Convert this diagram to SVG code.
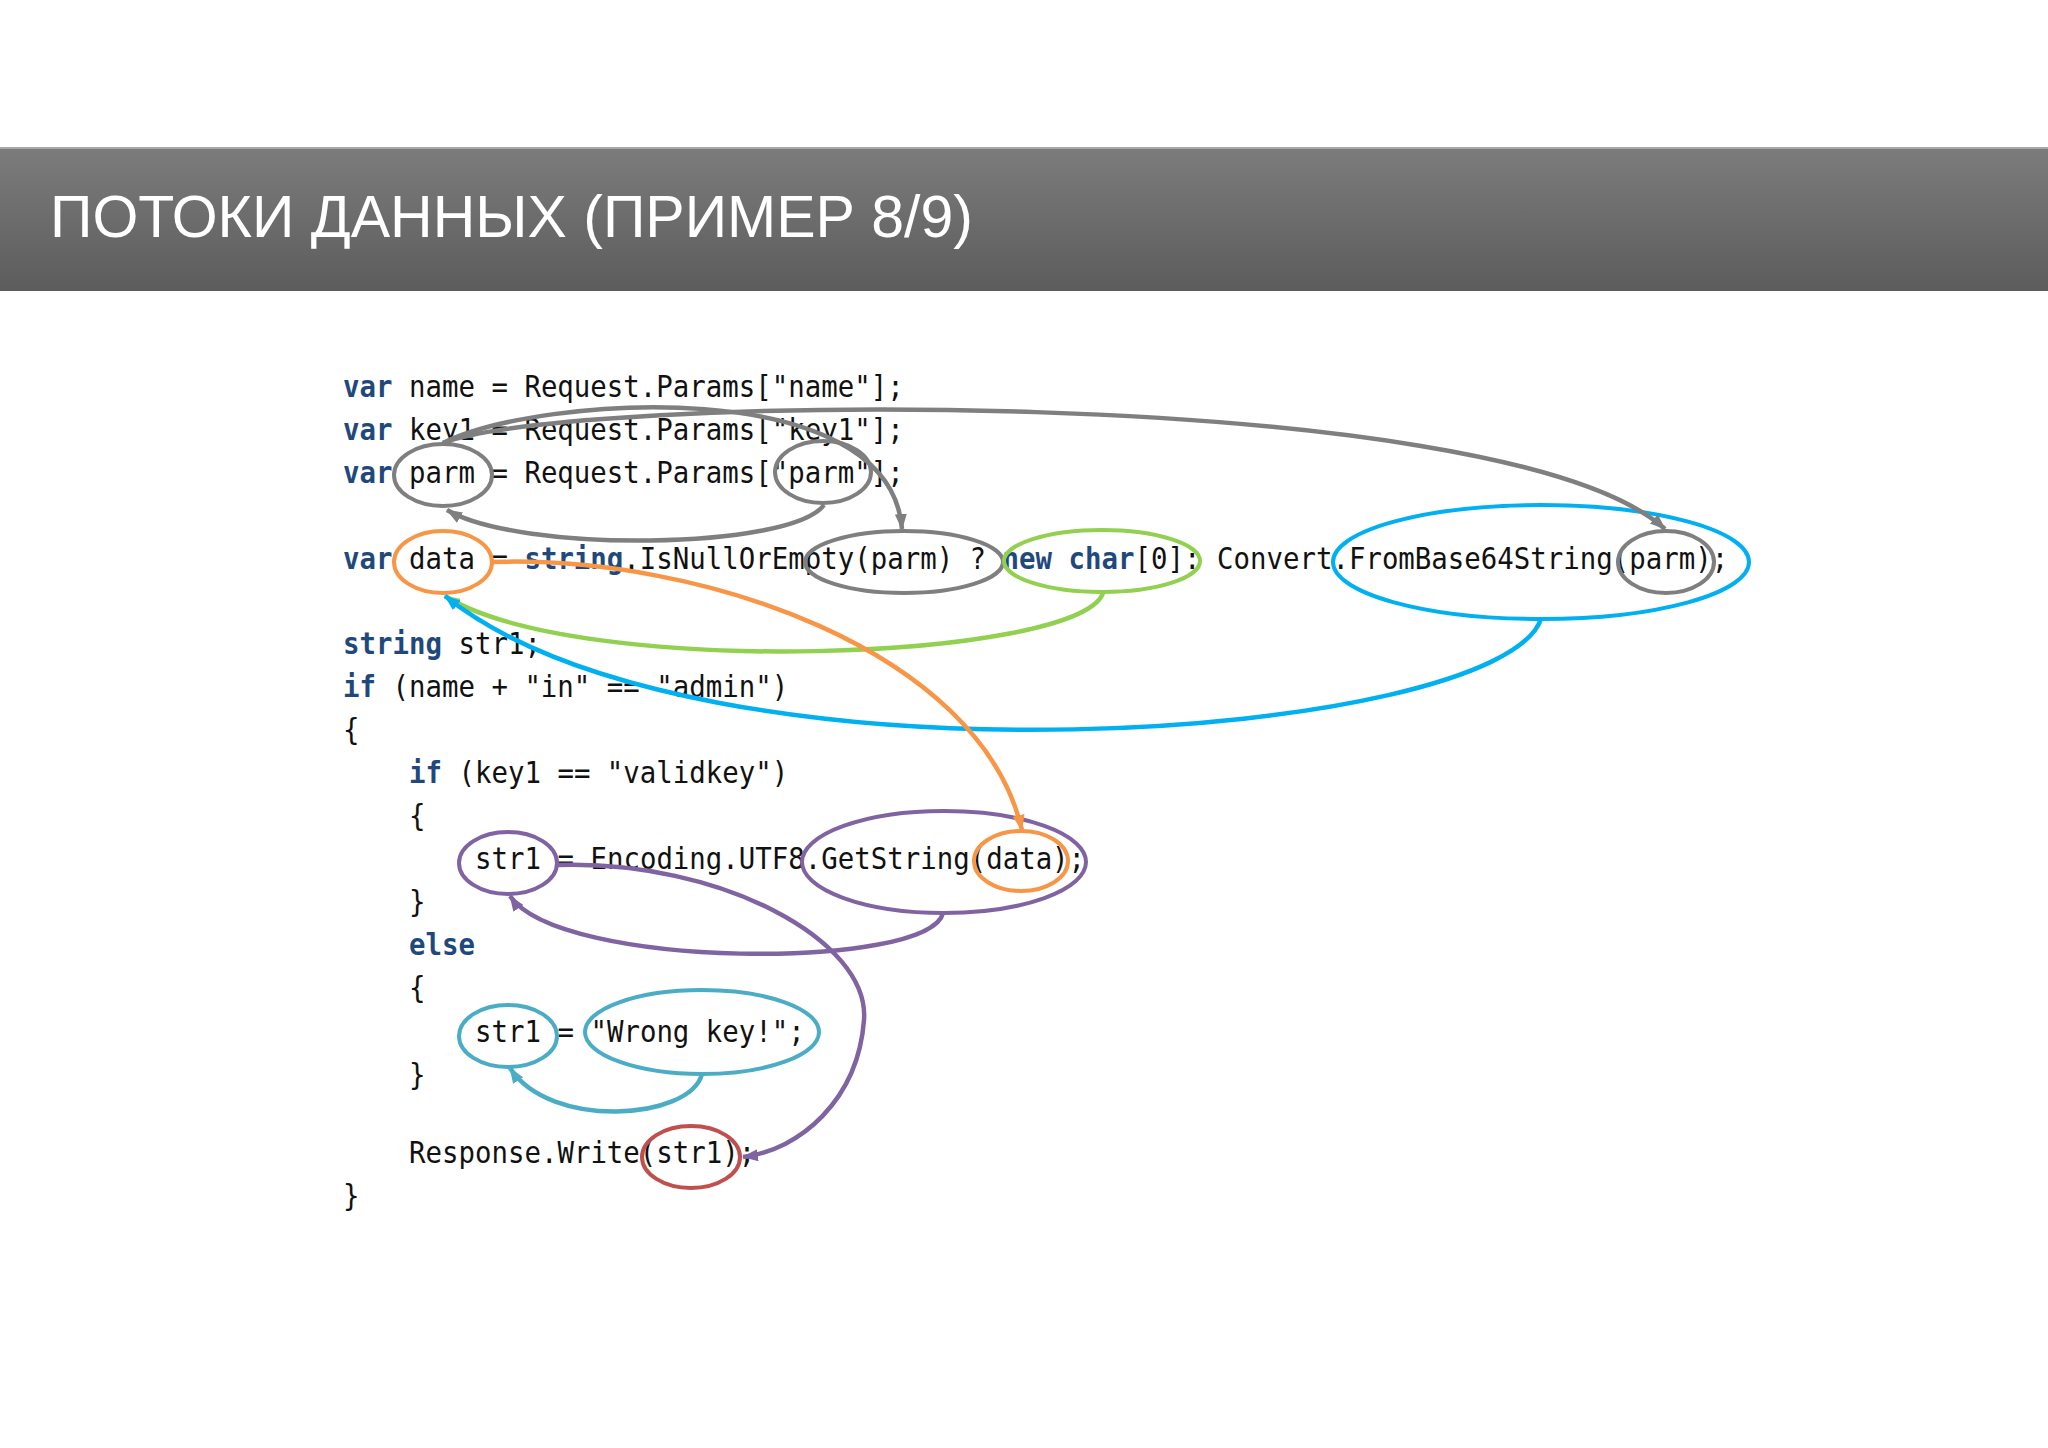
<svg xmlns="http://www.w3.org/2000/svg" width="2048" height="1448" viewBox="0 0 2048 1448">
<style>
.code{font-family:"DejaVu Sans Mono","Liberation Mono",monospace;font-size:27.4px;fill:#111111}
.kw{fill:#1F497D;font-weight:bold}
.title{font-family:"Liberation Sans",Arial,sans-serif;font-size:59px;fill:#ffffff}
.el{fill:none;stroke-width:4}
.ln{fill:none;stroke-width:4.5}
.gray{stroke:#7f7f7f}
.orange{stroke:#f79646}
.green{stroke:#92d050}
.blue{stroke:#00b0f0}
.purple{stroke:#8064a2}
.teal{stroke:#4bacc6}
.red{stroke:#c0504d}
</style>
<defs>
<linearGradient id="hdr" x1="0" y1="0" x2="0" y2="1">
<stop offset="0" stop-color="#7c7c7c"/>
<stop offset="1" stop-color="#5c5c5c"/>
</linearGradient>
<marker id="aGray" viewBox="0 0 16 12" refX="15" refY="6" markerWidth="16" markerHeight="12" markerUnits="userSpaceOnUse" orient="auto"><path d="M0,0 L16,6 L0,12 z" fill="#7f7f7f"/></marker>
<marker id="aGreen" viewBox="0 0 16 12" refX="15" refY="6" markerWidth="16" markerHeight="12" markerUnits="userSpaceOnUse" orient="auto"><path d="M0,0 L16,6 L0,12 z" fill="#92d050"/></marker>
<marker id="aBlue" viewBox="0 0 16 12" refX="15" refY="6" markerWidth="16" markerHeight="12" markerUnits="userSpaceOnUse" orient="auto"><path d="M0,0 L16,6 L0,12 z" fill="#00b0f0"/></marker>
<marker id="aOrange" viewBox="0 0 16 12" refX="15" refY="6" markerWidth="16" markerHeight="12" markerUnits="userSpaceOnUse" orient="auto"><path d="M0,0 L16,6 L0,12 z" fill="#f79646"/></marker>
<marker id="aPurple" viewBox="0 0 16 12" refX="15" refY="6" markerWidth="16" markerHeight="12" markerUnits="userSpaceOnUse" orient="auto"><path d="M0,0 L16,6 L0,12 z" fill="#8064a2"/></marker>
<marker id="aTeal" viewBox="0 0 16 12" refX="15" refY="6" markerWidth="16" markerHeight="12" markerUnits="userSpaceOnUse" orient="auto"><path d="M0,0 L16,6 L0,12 z" fill="#4bacc6"/></marker>
</defs>
<rect width="2048" height="1448" fill="#ffffff"/>
<g id="header">
<rect x="0" y="147" width="2048" height="144" fill="url(#hdr)"/>
<rect x="0" y="147" width="2048" height="2" fill="#a8a8a8"/>
<text class="title" x="50" y="237">ПОТОКИ ДАННЫХ (ПРИМЕР 8/9)</text>
</g>
<g id="code">
<text class="code" transform="matrix(1 0 0 1.12 343 397)"><tspan class="kw">var</tspan> name = Request.Params["name"];</text>
<text class="code" transform="matrix(1 0 0 1.12 343 440)"><tspan class="kw">var</tspan> key1 = Request.Params["key1"];</text>
<text class="code" transform="matrix(1 0 0 1.12 343 483)"><tspan class="kw">var</tspan> parm = Request.Params["parm"];</text>
<text class="code" transform="matrix(1 0 0 1.12 343 569)"><tspan class="kw">var</tspan> data = <tspan class="kw">string</tspan>.IsNullOrEmpty(parm) ? <tspan class="kw">new</tspan> <tspan class="kw">char</tspan>[0]: Convert.FromBase64String(parm);</text>
<text class="code" transform="matrix(1 0 0 1.12 343 654)"><tspan class="kw">string</tspan> str1;</text>
<text class="code" transform="matrix(1 0 0 1.12 343 697)"><tspan class="kw">if</tspan> (name + "in" == "admin")</text>
<text class="code" transform="matrix(1 0 0 1.12 343 740)">{</text>
<text class="code" transform="matrix(1 0 0 1.12 409 783)"><tspan class="kw">if</tspan> (key1 == "validkey")</text>
<text class="code" transform="matrix(1 0 0 1.12 409 826)">{</text>
<text class="code" transform="matrix(1 0 0 1.12 475 869)">str1 = Encoding.UTF8.GetString(data);</text>
<text class="code" transform="matrix(1 0 0 1.12 409 912)">}</text>
<text class="code" transform="matrix(1 0 0 1.12 409 955)"><tspan class="kw">else</tspan></text>
<text class="code" transform="matrix(1 0 0 1.12 409 998)">{</text>
<text class="code" transform="matrix(1 0 0 1.12 475 1042)">str1 = "Wrong key!";</text>
<text class="code" transform="matrix(1 0 0 1.12 409 1085)">}</text>
<text class="code" transform="matrix(1 0 0 1.12 409 1163)">Response.Write(str1);</text>
<text class="code" transform="matrix(1 0 0 1.12 343 1206)">}</text>
</g>
<g id="n-parm"><ellipse class="el gray" cx="443" cy="475" rx="49" ry="31"/></g>
<g id="n-parm-literal"><ellipse class="el gray" cx="823" cy="472" rx="48" ry="31"/></g>
<g id="n-data"><ellipse class="el orange" cx="443" cy="562" rx="49" ry="31"/></g>
<g id="n-isnull-parm"><ellipse class="el gray" cx="904" cy="562" rx="99" ry="31"/></g>
<g id="n-newchar"><ellipse class="el green" cx="1102" cy="561" rx="98" ry="31"/></g>
<g id="n-frombase64"><ellipse class="el blue" cx="1541" cy="562" rx="208" ry="57"/></g>
<g id="n-frombase64-parm"><ellipse class="el gray" cx="1666" cy="562" rx="48" ry="31"/></g>
<g id="n-getstring"><ellipse class="el purple" cx="944" cy="862" rx="142" ry="51"/></g>
<g id="n-getstring-data"><ellipse class="el orange" cx="1021" cy="861" rx="47" ry="30"/></g>
<g id="n-str1-a"><ellipse class="el purple" cx="508" cy="863" rx="49" ry="31"/></g>
<g id="n-str1-b"><ellipse class="el teal" cx="508" cy="1036" rx="49" ry="31"/></g>
<g id="n-wrongkey"><ellipse class="el teal" cx="702" cy="1032" rx="117" ry="42"/></g>
<g id="n-write-str1"><ellipse class="el red" cx="691" cy="1157" rx="49" ry="31"/></g>
<g id="connectors">
<path class="ln gray" d="M824,505 C790,550 520,553 447,510" marker-end="url(#aGray)"/>
<path class="ln gray" d="M443,443 C540,395 890,372 902,529" marker-end="url(#aGray)"/>
<path class="ln gray" d="M443,443 C560,395 1500,380 1665,529" marker-end="url(#aGray)"/>
<path class="ln green" d="M1103,593 C1080,660 580,680 445,596" marker-end="url(#aGreen)"/>
<path class="ln blue" d="M1541,619 C1500,740 700,800 445,596" marker-end="url(#aBlue)"/>
<path class="ln orange" d="M492,562 C700,555 980,650 1022,830" marker-end="url(#aOrange)"/>
<path class="ln purple" d="M943,913 C930,970 560,970 510,896" marker-end="url(#aPurple)"/>
<path class="ln purple" d="M558,865 C720,860 870,940 864,1020 C858,1100 800,1150 743,1157" marker-end="url(#aPurple)"/>
<path class="ln teal" d="M702,1074 C690,1120 550,1130 510,1068" marker-end="url(#aTeal)"/>
</g>
</svg>
